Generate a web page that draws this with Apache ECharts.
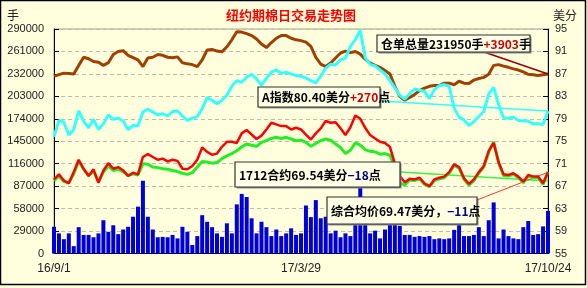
<!DOCTYPE html>
<html><head><meta charset="utf-8">
<script src="https://cdn.jsdelivr.net/npm/echarts@6/dist/echarts.min.js"></script>
<style>html,body{margin:0;padding:0;background:#DDE3EE;}#c{width:587px;height:288px;}</style>
</head><body><div id="c"></div>
<script>
// x tick labels (first, middle, last trading day)
const xTickLabels = ['16/9/1', '17/3/29', '17/10/24'];
// daily volume (手, left axis)
const volume = [34500,26000,18500,26000,9500,34000,24000,24000,21000,26000,
43000,28000,36500,25000,31000,34500,47500,60500,94000,47500,
31000,21000,21500,21000,24000,19500,34500,28000,11000,22500,
49500,41000,34000,26000,21500,39000,26000,63500,77000,73000,
45500,26000,41000,34000,22500,31000,22500,26000,32500,24000,
26000,62000,47000,69000,45500,47500,26000,29500,21000,26000,
22500,47500,85000,38000,26000,29500,19500,31000,41000,39000,
35500,24000,24000,21500,22500,21500,22500,18500,19500,18500,
19500,30500,38000,22500,22500,24000,34000,22500,43000,66000,
19500,31000,22500,19500,18500,34000,42000,24000,25000,35000,55000];
// 仓单总量 (手, left axis)
const openInterest = [229000,231000,233000,232500,232000,243000,253500,251500,248000,247000,
243000,246500,257000,261000,262000,256000,253000,250000,241500,252500,
253500,257000,256000,253500,253000,254000,246500,245000,244000,241500,
250000,263000,263500,261500,260500,267000,276000,286500,286000,284000,
281500,277000,270500,266000,272500,278000,281500,281500,278000,276000,
275000,273000,267500,253500,244500,241500,246000,252500,259000,261500,
259500,261000,257500,251000,246000,243000,240500,236500,232000,216000,
203000,198000,201500,205500,210500,213500,216000,217000,217000,220000,
220000,218000,222500,220000,219500,224000,226000,227500,231500,243000,
244000,242000,240500,238500,237000,234500,231500,231000,230000,231000,231950];
// A指数 (美分, right axis)
const indexA = [75.8,78.7,78.4,76.1,77.1,80.4,78.6,77.4,78.9,77.1,
78.1,79.7,78.9,79.1,78.6,77.1,77.8,77.7,80.2,80.7,
80.2,79.7,79.9,79.5,80.3,80.4,79.5,78.7,79.1,79.4,
80.8,82.8,82.3,81.7,82.3,83.2,84.8,85.8,85.5,86.4,
86.9,86.1,85.0,86.2,87.3,87.7,87.1,87.3,87.0,86.7,
86.6,86.3,85.8,85.4,86.6,88.0,88.7,88.6,89.5,89.8,
91.9,93.1,94.8,89.9,88.7,88.4,87.7,87.0,85.8,84.5,
83.2,82.5,83.5,84.3,84.1,83.9,82.6,84.2,84.9,85.1,
84.8,80.9,79.3,78.8,77.8,78.5,79.4,80.3,83.4,84.6,
81.5,79.2,79.1,79.3,78.7,78.6,78.6,78.1,78.1,78.0,80.4];
// 1712合约 (美分, right axis)
const contract1712 = [68.0,68.8,67.8,67.6,69.2,71.4,70.0,68.9,69.6,67.8,
69.5,70.6,69.8,70.0,69.6,68.9,69.2,69.0,71.0,70.9,
70.4,70.3,70.1,70.0,69.8,69.6,69.3,69.1,69.4,70.4,
71.4,71.3,71.1,71.2,71.9,72.4,72.8,73.3,74.0,74.5,
74.3,74.1,74.8,75.1,75.5,75.7,75.5,75.7,75.4,75.1,
75.2,74.8,74.1,74.6,75.1,75.4,75.2,74.5,73.9,72.8,
73.4,74.7,74.3,73.5,73.2,73.1,72.7,72.8,72.5,70.4,
67.6,67.2,68.1,68.0,68.3,67.3,66.9,68.0,68.3,68.5,
69.3,70.7,70.2,68.2,67.2,68.0,69.3,70.4,73.0,74.9,
71.1,68.9,68.8,69.1,68.5,67.6,68.8,68.5,68.5,67.3,69.54];
// 综合均价 (美分, right axis)
const composite = [68.2,69.1,68.0,67.5,69.5,71.7,70.1,68.8,70.0,67.6,
69.8,71.1,70.1,70.4,69.8,68.8,69.4,69.1,72.2,72.7,
72.2,71.7,71.9,71.4,71.7,71.5,70.1,70.0,70.6,71.7,
73.9,73.1,72.6,72.8,74.0,74.9,74.9,74.7,76.4,77.0,
76.2,75.4,76.0,77.1,78.3,78.0,77.7,77.7,77.1,77.4,
77.1,76.2,75.3,76.4,77.3,78.6,78.3,78.4,77.3,76.1,
77.5,79.6,79.0,77.4,76.1,75.5,74.9,74.7,74.0,71.0,
68.8,67.7,68.3,68.2,68.5,67.5,67.0,68.2,68.5,68.7,
69.5,70.9,70.4,68.4,67.4,68.2,69.5,70.6,73.3,74.7,
71.3,69.1,69.0,69.3,68.7,67.8,69.0,68.7,68.7,67.5,69.47];
// annotation texts: [plain, coloured change, suffix]
const noteOI = ['仓单总量231950手', '+3903', '手'];
const noteA = ['A指数80.40美分', '+270', '点'];
const note1712 = ['1712合约69.54美分', '−18', '点'];
const noteComp = ['综合均价69.47美分，', '−11', '点'];

const last = volume.length - 1;
const cats = volume.map((_, i) => String(i));
const FONT = '"Liberation Sans", Arial, sans-serif';
const CJK = '"Noto Sans CJK SC", sans-serif';

function box(x, y, w, h, parts, chColor) {
  return [
    {type:'rect', z:100, shape:{x:x+1.5, y:y+1.5, width:w, height:h}, style:{fill:'#8a8a8a'}},
    {type:'rect', z:101, shape:{x:x, y:y, width:w, height:h}, style:{fill:'#FFFFE6', stroke:'#333', lineWidth:1.2}},
    {type:'text', z:102, x:x+4, y:y+h/2+0.5, style:{
      text:'{k|'+parts[0]+'}{c|'+parts[1]+'}{k|'+parts[2]+'}',
      verticalAlign:'middle', align:'left',
      rich:{
        k:{fill:'#000', fontSize:12, fontWeight:'bold', fontFamily:CJK},
        c:{fill:chColor, fontSize:12, fontWeight:'bold', fontFamily:CJK}
      }}}
  ];
}

function arrow(color, width, from, toVal) {
  return {silent:true, animation:false, symbol:['none','arrow'], symbolSize:[0,8],
    label:{show:false}, lineStyle:{color:color, width:width, type:'solid'},
    emphasis:{disabled:true},
    data:[[{x:from[0], y:from[1]}, {coord:[last, toVal]}]]};
}

const chart = echarts.init(document.getElementById('c'));
chart.setOption({
  animation:false,
  backgroundColor:'#FFFFDD',
  grid:{left:54, right:39, top:29, bottom:34.5, show:true, borderColor:'#A3A385', borderWidth:1},
  xAxis:{type:'category', data:cats, boundaryGap:false,
    axisLine:{lineStyle:{color:'#000'}}, axisTick:{show:false},
    axisLabel:{interval:49, margin:9, color:'#222', fontSize:12, fontFamily:FONT,
      formatter:(v, i) => xTickLabels[i / 50] || ''},
    splitLine:{show:false}},
  yAxis:[
    {type:'value', min:0, max:290000, interval:29000, position:'left',
      axisLine:{show:true, lineStyle:{color:'#000'}},
      axisTick:{show:true, inside:true, length:5, lineStyle:{color:'#000'}},
      axisLabel:{margin:10, color:'#222', fontSize:11, fontFamily:FONT, formatter:v => String(v)},
      splitLine:{show:true, lineStyle:{color:'#BDBDB0', type:[4,3]}}},
    {type:'value', min:55, max:95, interval:4, position:'right',
      axisLine:{show:true, lineStyle:{color:'#000'}},
      axisTick:{show:true, inside:true, length:5, lineStyle:{color:'#000'}},
      axisLabel:{margin:7, color:'#222', fontSize:11, fontFamily:FONT, formatter:v => String(v)},
      splitLine:{show:false}}
  ],
  series:[
    {type:'bar', data:volume, yAxisIndex:0, barWidth:4, itemStyle:{color:'#0000D8'}, z:1},
    {type:'line', data:openInterest, yAxisIndex:0, symbol:'none', z:3,
      lineStyle:{color:'#A04000', width:3}, markLine:arrow('#990000', 1.5, [484, 52], openInterest[last])},
    {type:'line', data:indexA, yAxisIndex:1, symbol:'none', z:4,
      lineStyle:{color:'#33FFFF', width:3}, markLine:arrow('#33FFFF', 1.5, [380, 101], indexA[last])},
    {type:'line', data:contract1712, yAxisIndex:1, symbol:'none', z:5,
      lineStyle:{color:'#22EE22', width:3}, markLine:arrow('#44EE44', 1.5, [400, 172], 67.9)},
    {type:'line', data:composite, yAxisIndex:1, symbol:'none', z:6,
      lineStyle:{color:'#FF0000', width:2.5}, markLine:arrow('#FF3333', 1, [477, 200], composite[last])}
  ],
  graphic:[
    {type:'rect', z:200, shape:{x:0.5, y:0.5, width:585, height:284}, style:{fill:null, stroke:'#000', lineWidth:1.5}},
    {type:'text', z:200, x:291, y:15, style:{text:'纽约期棉日交易走势图', fill:'#FF0000', fontSize:13, fontWeight:'bold', fontFamily:CJK, align:'center', verticalAlign:'middle'}},
    {type:'text', z:200, x:13, y:15, style:{text:'手', fill:'#222', fontSize:12, fontFamily:CJK, align:'center', verticalAlign:'middle'}},
    {type:'text', z:200, x:565, y:15, style:{text:'美分', fill:'#222', fontSize:12, fontFamily:CJK, align:'center', verticalAlign:'middle'}},
    ...box(377, 35, 153, 17, noteOI, '#CC0000'),
    ...box(258, 87, 122, 20, noteA, '#CC0000'),
    ...box(235, 162, 165, 25, note1712, '#000080'),
    ...box(327, 197, 150, 27, noteComp, '#000080')
  ]
});
</script></body></html>
